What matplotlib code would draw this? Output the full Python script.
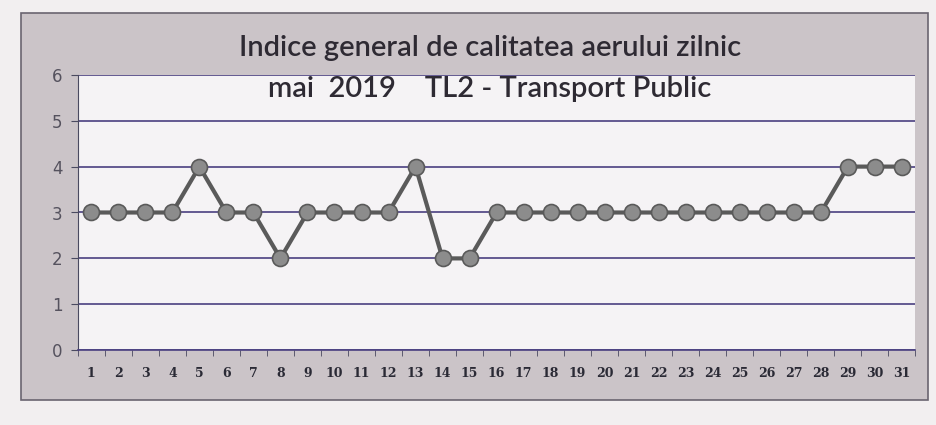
import matplotlib.pyplot as plt
from matplotlib.patches import Rectangle

days = list(range(1, 32))
index_values = [3, 3, 3, 3, 4, 3, 3, 2, 3, 3, 3, 3, 4, 2, 2, 3,
                3, 3, 3, 3, 3, 3, 3, 3, 3, 3, 3, 3, 4, 4, 4]
title_lines = ["Indice general de calitatea aerului zilnic",
               "mai  2019    TL2 - Transport Public"]

fig = plt.figure(figsize=(9.37, 4.25), dpi=100)
fig.patch.set_facecolor('#f2eff0')

# chart frame (excel style grey area)
frame = Rectangle((0.022, 0.06), 0.968, 0.91, transform=fig.transFigure,
                  facecolor='#cbc4c8', edgecolor='#6a6470', linewidth=1.2, zorder=-5)
fig.patches.append(frame)

ax = fig.add_axes([0.083, 0.176, 0.894, 0.648])
ax.set_facecolor('#f5f3f5')

ax.plot(days, index_values, color='#5a5a5a', linewidth=3, marker='o',
        markersize=11.5, markerfacecolor='#8c8c8c', markeredgecolor='#5a5a5a',
        markeredgewidth=1.2, zorder=3)

ax.set_ylim(0, 6)
ax.set_yticks(range(0, 7))
ax.set_xlim(0.5, 31.5)
ax.set_xticks(days)
ax.set_xticks([d + 0.5 for d in range(0, 32)], minor=True)
ax.tick_params(axis='x', which='major', length=0, pad=12, labelsize=9,
               labelcolor='#2a2a35')
ax.tick_params(axis='x', which='minor', length=4, color='#4a4a60')
ax.tick_params(axis='y', length=5, pad=6, color='#4a4a60', labelsize=12,
               labelcolor='#55525e')
for lbl in ax.get_xticklabels():
    lbl.set_family('DejaVu Serif')
    lbl.set_weight('bold')
ax.grid(axis='y', color='#4a3f80', linewidth=1.2)
ax.set_axisbelow(True)
for side in ['top', 'right']:
    ax.spines[side].set_visible(False)
ax.spines['left'].set_color('#4a4a60')
ax.spines['bottom'].set_color('#4a3f80')
ax.spines['bottom'].set_linewidth(1.2)

fig.text(0.523, 0.887, title_lines[0], ha='center', va='center', fontsize=21,
         family='Lato', weight='semibold', color='#2e2a33', zorder=5)
fig.text(0.523, 0.79, title_lines[1], ha='center', va='center', fontsize=21,
         family='Lato', weight='semibold', color='#2e2a33', zorder=5)

fig.savefig('out.png', dpi=100, facecolor=fig.get_facecolor())
